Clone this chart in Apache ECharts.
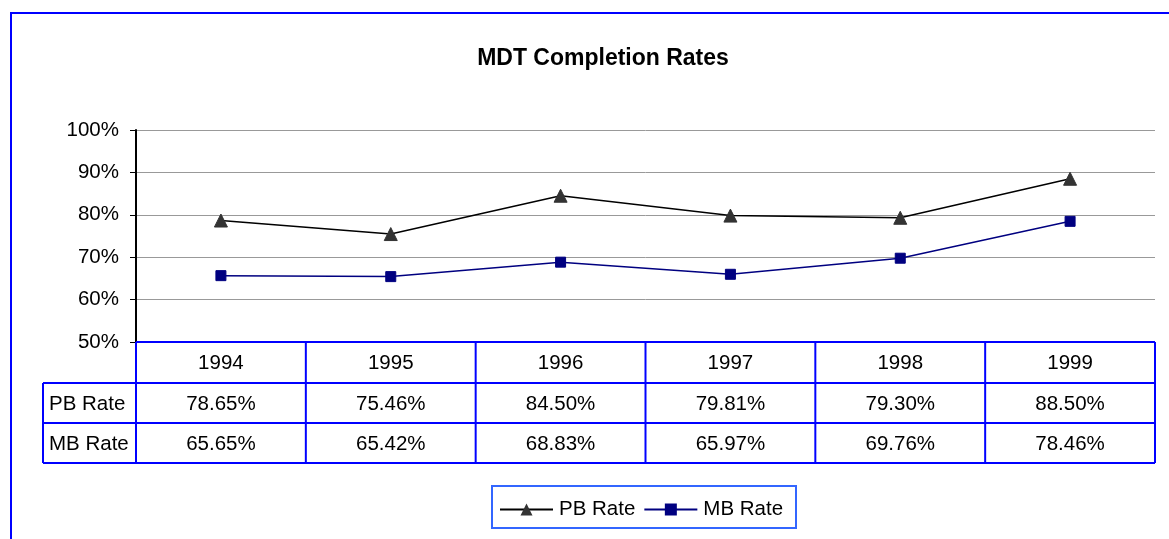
<!DOCTYPE html>
<html><head><meta charset="utf-8">
<script src="https://cdn.jsdelivr.net/npm/echarts@6/dist/echarts.min.js"></script>
<style>html,body{margin:0;padding:0;background:#fff}#c{width:1169px;height:539px}</style>
</head><body><div id="c"></div>
<script>
const years = ['1994','1995','1996','1997','1998','1999'];
const pbRate = [78.65, 75.46, 84.50, 79.81, 79.30, 88.50];
const mbRate = [65.65, 65.42, 68.83, 65.97, 69.76, 78.46];
const seriesNames = ['PB Rate', 'MB Rate'];
const yMin = 50, yMax = 100, yStep = 10;

const FONT = '"Liberation Sans", Arial, sans-serif';
const G = {left: 136, top: 130, width: 1019, height: 212};
const ROW_H = [41, 40, 40];
const HEAD_LEFT = 43;
const BLUE = '#0000ff';
const FS = 20.5;

const chart = echarts.init(document.getElementById('c'), null, {renderer: 'canvas'});
chart.setOption({
  animation: false,
  backgroundColor: '#fff',
  title: {text: 'MDT Completion Rates', left: 598, top: 42, textAlign: 'center',
    textStyle: {fontFamily: FONT, fontSize: 23, fontWeight: 'bold', color: '#000'}},
  grid: {left: G.left, top: G.top, width: G.width, height: G.height},
  xAxis: {type: 'category', data: years, boundaryGap: true,
    axisLine: {show: false}, axisTick: {show: false}, axisLabel: {show: false}},
  yAxis: {type: 'value', min: yMin, max: yMax, interval: yStep,
    axisLine: {show: true, lineStyle: {color: '#000', width: 2}},
    axisTick: {show: true, length: 6, lineStyle: {color: '#000'}},
    axisLabel: {formatter: '{value}%', fontFamily: FONT, fontSize: FS, color: '#000', margin: 17},
    splitLine: {lineStyle: {color: '#999', width: 1}}},
  legend: {left: 499, top: 499, itemWidth: 53, itemHeight: 15, itemGap: 8, padding: 0,
    data: seriesNames,
    textStyle: {fontFamily: FONT, fontSize: FS, color: '#000', padding: [0,0,0,1]}},
  series: [
    {name: seriesNames[0], type: 'line', data: pbRate, symbol: 'triangle', symbolSize: 13,
      lineStyle: {color: '#000', width: 1.5}, itemStyle: {color: '#333', borderColor: '#333'}},
    {name: seriesNames[1], type: 'line', data: mbRate, symbol: 'rect', symbolSize: 10,
      lineStyle: {color: '#000080', width: 1.5}, itemStyle: {color: '#000080', borderColor: '#000080'}}
  ]
});

// data table + borders
const els = [];
const colW = G.width / years.length;
const right = G.left + G.width;
const y0 = G.top + G.height;
const y1 = y0 + ROW_H[0], y2 = y1 + ROW_H[1], y3 = y2 + ROW_H[2];
const line = (x1,yA,x2,yB,c,w) => ({type:'line', shape:{x1,y1:yA,x2,y2:yB}, style:{stroke:c||BLUE, lineWidth:w||2}, z:10});
const txt = (t,x,y,align) => ({type:'text', x, y, style:{text:t, font:FS+'px '+FONT, fill:'#000', textAlign:align||'center', textVerticalAlign:'middle'}, z:11});
els.push(line(G.left,y0,right,y0));
els.push(line(HEAD_LEFT,y1,right,y1));
els.push(line(HEAD_LEFT,y2,right,y2));
els.push(line(HEAD_LEFT,y3,right,y3));
els.push(line(HEAD_LEFT,y1,HEAD_LEFT,y3));
for (let i = 0; i <= years.length; i++) {
  const x = G.left + i*colW;
  els.push(line(x,y0,x,y3));
}
years.forEach((yr,i) => {
  const cx = chart.convertToPixel({xAxisIndex:0}, yr);
  els.push(txt(yr, cx, (y0+y1)/2 + 1));
  els.push(txt(pbRate[i].toFixed(2)+'%', cx, (y1+y2)/2 + 1));
  els.push(txt(mbRate[i].toFixed(2)+'%', cx, (y2+y3)/2 + 1));
});
els.push(txt(seriesNames[0], HEAD_LEFT+6, (y1+y2)/2 + 1, 'left'));
els.push(txt(seriesNames[1], HEAD_LEFT+6, (y2+y3)/2 + 1, 'left'));
// legend frame
els.push({type:'rect', shape:{x:492,y:486,width:304,height:42}, style:{fill:'none', stroke:'#3366ff', lineWidth:2}, z:10});
// outer frame
els.push({type:'rect', shape:{x:11,y:13,width:1200,height:600}, style:{fill:'none', stroke:BLUE, lineWidth:2}, z:10});
chart.setOption({graphic: {elements: els}});
</script>
</body></html>
